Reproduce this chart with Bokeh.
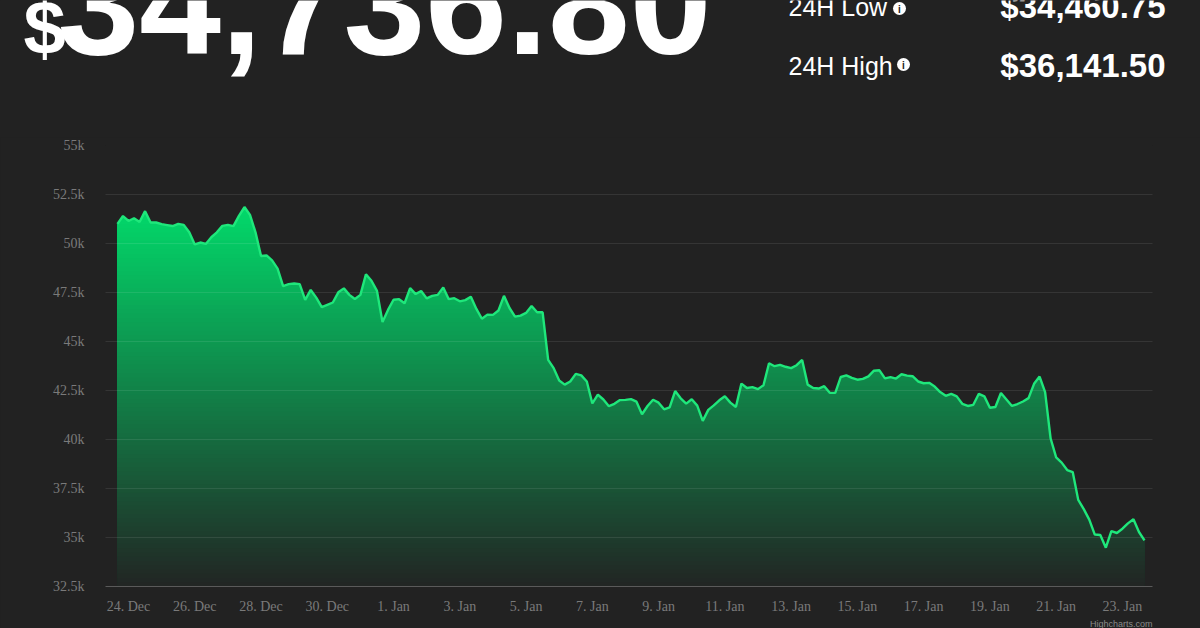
import numpy as np
import pandas as pd
from bokeh.plotting import figure
from bokeh.layouts import column
from bokeh.models import Range1d, FixedTicker, Title
from bokeh.core.properties import value
from bokeh.embed import file_html
from bokeh.resources import INLINE

# ---------------- data ----------------
price_now = "$34,736.80"
stat_labels = ["24H Low", "24H High"]
stat_values = ["$34,460.75", "$36,141.50"]
credit = "Highcharts.com"

prices = [
    51000, 51400, 51150, 51290, 51100, 51650, 51070, 51070, 50990, 50940,
    50890, 51000, 50950, 50570, 49950, 50050, 49980, 50320, 50570, 50900,
    50950, 50890, 51410, 51860, 51460, 50570, 49360, 49390, 49140, 48720,
    47830, 47930, 47960, 47930, 47120, 47630, 47240, 46750, 46870, 46990,
    47510, 47710, 47380, 47170, 47380, 48430, 48100, 47580, 45990, 46610,
    47130, 47160, 46950, 47720, 47420, 47580, 47200, 47330, 47380, 47750,
    47160, 47210, 47050, 47110, 47280, 46660, 46160, 46370, 46360, 46580,
    47330, 46710, 46270, 46320, 46460, 46810, 46490, 46490, 44060, 43640,
    43010, 42800, 42960, 43350, 43270, 42960, 41840, 42290, 42040, 41700,
    41820, 42010, 42020, 42060, 41930, 41290, 41710, 42030, 41880, 41540,
    41640, 42470, 42100, 41830, 42050, 41730, 40950, 41510, 41740, 42000,
    42210, 41880, 41660, 42850, 42630, 42670, 42570, 42770, 43890, 43740,
    43810, 43710, 43640, 43790, 44060, 42800, 42630, 42600, 42720, 42380,
    42380, 43190, 43270, 43140, 43050, 43090, 43220, 43510, 43530, 43120,
    43180, 43110, 43330, 43260, 43230, 42960, 42870, 42890, 42700, 42420,
    42230, 42330, 42200, 41820, 41710, 41770, 42330, 42200, 41620, 41660,
    42370, 42040, 41710, 41810, 41940, 42110, 42840, 43210, 42420, 40050,
    39090, 38820, 38440, 38340, 36920, 36450, 35910, 35150, 35130, 34480,
    35320, 35230, 35450, 35720, 35930, 35280, 34850,
]
times = pd.date_range("2021-12-23 16:00", periods=len(prices), freq="4h")

y_ticks = [32500, 35000, 37500, 40000, 42500, 45000, 47500, 50000, 52500, 55000]
y_tick_labels = ["32.5k", "35k", "37.5k", "40k", "42.5k", "45k", "47.5k", "50k", "52.5k", "55k"]

x_tick_dates = pd.date_range("2021-12-24", "2022-01-23", freq="2D")
x_tick_labels = ["24. Dec", "26. Dec", "28. Dec", "30. Dec", "1. Jan", "3. Jan", "5. Jan",
                 "7. Jan", "9. Jan", "11. Jan", "13. Jan", "15. Jan", "17. Jan", "19. Jan",
                 "21. Jan", "23. Jan"]

# ---------------- style ----------------
BG = "#222222"
W, H = 1200, 628
HEAD_H = 137
SANS = value("Liberation Sans")
MID = 0.3465  # offset from font-box middle to alphabetic baseline, in em


def base(y, size):
    # place text so that its baseline lands at header pixel y
    return y - MID * size


# ---------- header (price + 24h stats) ----------
head = figure(width=W, height=HEAD_H, output_backend="svg", toolbar_location=None,
              x_range=Range1d(0, W), y_range=Range1d(HEAD_H, 0),
              x_axis_location=None, y_axis_location=None, min_border=0)
head.frame_align = False
head.title.visible = False
head.background_fill_color = BG
head.border_fill_color = BG
head.outline_line_color = None
head.grid.visible = False

head.text(x=[23], y=[base(53, 76)], text=[price_now[0]], text_font=SANS, text_font_size="76px",
          text_font_style="bold", text_color="#ffffff", text_baseline="middle")
head.text(x=[57], y=[base(53, 147)], text=[price_now[1:]], text_font=SANS,
          text_font_size="147px", text_font_style="bold", text_color="#ffffff",
          text_baseline="middle")
head.text(x=[788, 788], y=[base(15, 25), base(74, 25)], text=stat_labels, text_font=SANS,
          text_font_size="25px", text_color="#ffffff", text_baseline="middle")
head.text(x=[1165, 1165], y=[base(17, 33), base(76, 33)], text=stat_values, text_font=SANS,
          text_font_size="33px", text_font_style="bold", text_color="#ffffff",
          text_align="right", text_baseline="middle")
head.scatter(x=[899, 903], y=[8, 64], size=13, marker="circle", fill_color="#ffffff",
             line_color=None)
head.text(x=[899, 903], y=[8.5, 64.5], text=["i", "i"], text_font=SANS, text_font_size="10px",
          text_font_style="bold", text_color=BG, text_align="center", text_baseline="middle")

# ---------- main chart ----------
p = figure(width=W, height=H - HEAD_H, output_backend="svg", toolbar_location=None,
           x_axis_type="datetime",
           x_range=Range1d(pd.Timestamp("2021-12-23 07:20"), pd.Timestamp("2022-01-23 21:48")),
           y_range=Range1d(32500, 55000),
           min_border_left=105, min_border_right=W - 1152,
           min_border_top=145 - HEAD_H, min_border_bottom=H - 592)
p.frame_align = False
p.background_fill_color = BG
p.border_fill_color = BG
p.outline_line_color = None

# gradient area (stacked bands)
arr = np.array(prices, dtype=float)
lo = y_ticks[0]
top = arr.max()
c_top = np.array([2, 216, 106])
c_bot = np.array([34, 36, 35])
for lev in np.linspace(top, lo, 90):
    t = (top - lev) / (top - lo)
    c = (c_top * (1 - t) + c_bot * t).round().astype(int)
    p.varea(x=times, y1=lo, y2=np.minimum(arr, lev),
            fill_color="#%02x%02x%02x" % tuple(c), fill_alpha=1.0)

p.line(times, arr, line_color="#1fe77b", line_width=2.4, level="annotation")

# grid
p.xgrid.visible = False
p.ygrid.ticker = FixedTicker(ticks=y_ticks)
p.ygrid.grid_line_color = "#ffffff"
p.ygrid.grid_line_alpha = 0.09
p.ygrid.level = "guide"

# axes
p.yaxis.ticker = FixedTicker(ticks=y_ticks)
p.yaxis.major_label_overrides = {int(v): s for v, s in zip(y_ticks, y_tick_labels)}
p.yaxis.axis_line_color = None
p.yaxis.major_tick_line_color = None
p.yaxis.minor_tick_line_color = None
p.yaxis.major_label_standoff = 15
p.yaxis.major_label_text_font = "Liberation Serif"
p.yaxis.major_label_text_font_size = "14px"
p.yaxis.major_label_text_color = "#7a7a7a"

x_ms = [int(t.value // 10**6) for t in x_tick_dates]
p.xaxis.ticker = FixedTicker(ticks=x_ms)
p.xaxis.major_label_overrides = {v: s for v, s in zip(x_ms, x_tick_labels)}
p.xaxis.axis_line_color = "#5a5a5a"
p.xaxis.axis_line_width = 1.2
p.xaxis.major_tick_line_color = None
p.xaxis.minor_tick_line_color = None
p.xaxis.major_label_standoff = 6
p.xaxis.major_label_text_font = "Liberation Serif"
p.xaxis.major_label_text_font_size = "14px"
p.xaxis.major_label_text_color = "#7a7a7a"

p.add_layout(Title(text=credit, align="right", text_font="Liberation Sans",
                   text_font_size="9px", text_font_style="normal", text_color="#8a8a8a",
                   standoff=0), "below")

layout = column(head, p, spacing=0)
layout.styles = {"background-color": BG}
open("out.html", "w").write(file_html(layout, INLINE))
